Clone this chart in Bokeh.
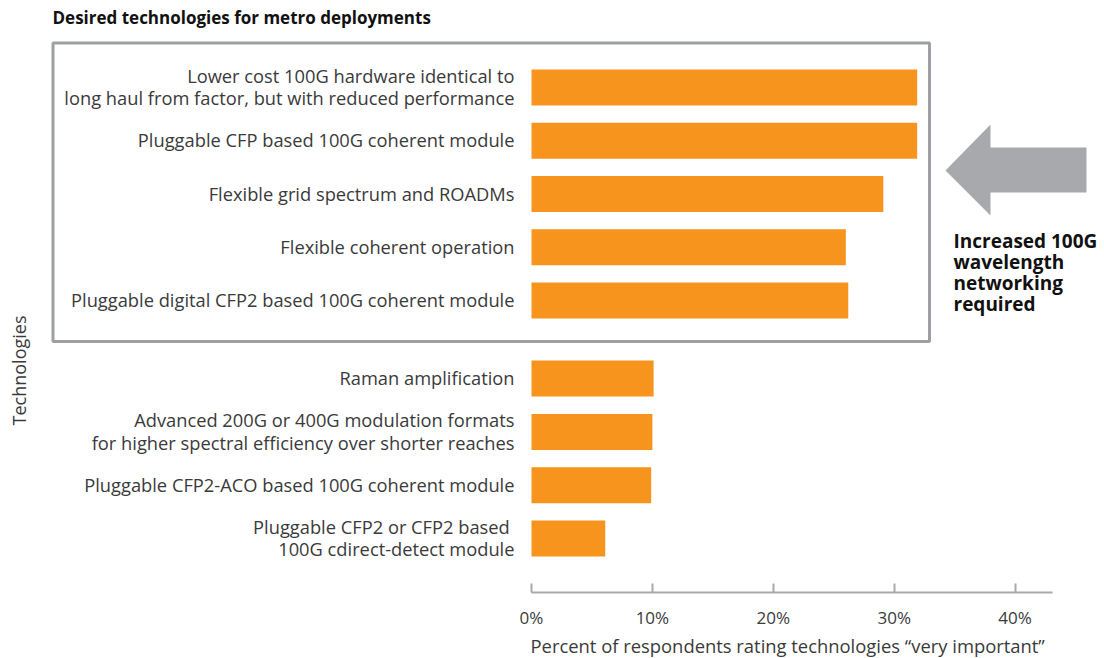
import math
from bokeh.plotting import figure
from bokeh.models import Range1d, FixedTicker, PrintfTickFormatter, Title
from bokeh.embed import file_html
from bokeh.resources import INLINE
from bokeh.core.properties import value

# ---------------- data ----------------
chart_title = "Desired technologies for metro deployments"
technologies = [
    "Lower cost 100G hardware identical to\nlong haul from factor, but with reduced performance",
    "Pluggable CFP based 100G coherent module",
    "Flexible grid spectrum and ROADMs",
    "Flexible coherent operation",
    "Pluggable digital CFP2 based 100G coherent module",
    "Raman amplification",
    "Advanced 200G or 400G modulation formats\nfor higher spectral efficiency over shorter reaches",
    "Pluggable CFP2-ACO based 100G coherent module",
    "Pluggable CFP2 or CFP2 based \n100G cdirect-detect module",
]
percent_very_important = [31.9, 31.9, 29.1, 26.0, 26.2, 10.1, 10.0, 9.9, 6.1]
n_highlighted = 5
x_ticks = [0, 10, 20, 30, 40]
x_label = "Percent of respondents rating technologies \u201cvery important\u201d"
y_label = "Technologies"
callout = "Increased 100G\nwavelength\nnetworking\nrequired"

# ---------------- layout ----------------
W, H = 1104, 658
BOTTOM_BORDER = 66
frame_bottom = H - BOTTOM_BORDER
x0_px = 531.0
ppp = 12.09          # pixels per percent
unit = 53.27         # pixels per category step
first_center = 87.0
group_gap = 0.465

def sx(px):
    return (px - x0_px) / ppp

def sy(py):
    return (py - first_center) / unit

positions = [i + (group_gap if i >= n_highlighted else 0.0) for i in range(len(technologies))]

p = figure(width=W, height=H, output_backend="svg", toolbar_location=None,
           x_range=Range1d(sx(0), sx(W)),
           y_range=Range1d(sy(frame_bottom), sy(0)),
           y_axis_location=None,
           min_border_left=0, min_border_right=0, min_border_top=0,
           min_border_bottom=BOTTOM_BORDER)
p.title.visible = False
p.outline_line_color = None
p.xgrid.visible = False
p.ygrid.visible = False
p.background_fill_color = "white"
p.border_fill_color = "white"

FONT = value("Open Sans")
TXT = "#3a3a3a"
LABEL_SIZE = "18.3px"

# bars
p.hbar(y=positions, left=0, right=percent_very_important, height=36 / unit,
       fill_color="#F7941E", line_color=None)

# category labels
p.text(x=[0] * len(technologies), y=positions, text=technologies,
       x_offset=-17, y_offset=-1, text_align="right", text_baseline="middle",
       text_font=FONT, text_font_size=LABEL_SIZE, text_color=TXT,
       text_line_height=0.9)

# highlight box around the first group
p.quad(left=sx(52.5), right=sx(929), top=sy(42.5), bottom=sy(341),
       fill_color=None, line_color="#9d9fa2", line_width=3)

# arrow
p.patch(x=[sx(945), sx(990), sx(990), sx(1086), sx(1086), sx(990), sx(990)],
        y=[sy(170), sy(124), sy(147), sy(147), sy(192), sy(192), sy(215)],
        fill_color="#a7a9ac", line_color=None)

# callout text
p.text(x=[sx(953)], y=[sy(272)], text=[callout], text_align="left",
       text_baseline="middle", text_font=FONT, text_font_style="bold",
       text_font_size="19px", text_color="#111111", text_line_height=0.82)

# chart title
p.text(x=[sx(52)], y=[sy(17)], text=[chart_title], text_align="left",
       text_baseline="middle", text_font=FONT, text_font_style="bold",
       text_font_size="17px", text_color="#111111")

# y label
p.text(x=[sx(18)], y=[sy(370)], text=[y_label], angle=math.pi / 2,
       text_align="center", text_baseline="middle", text_font=FONT,
       text_font_size="18px", text_color=TXT)

# x axis
ax = p.xaxis[0]
ax.ticker = FixedTicker(ticks=x_ticks)
ax.formatter = PrintfTickFormatter(format="%d%%")
ax.bounds = (0, sx(1052))
ax.axis_line_color = "#a7a9ac"
ax.axis_line_width = 2
ax.major_tick_line_color = "#a7a9ac"
ax.major_tick_line_width = 2
ax.major_tick_in = 9
ax.major_tick_out = 0
ax.minor_tick_line_color = None
ax.major_label_standoff = 13
ax.major_label_text_font = "Open Sans"
ax.major_label_text_font_size = "17px"
ax.major_label_text_color = TXT

# x-axis title, aligned with the axis span (0% .. end of axis line)
x_title = Title(text=x_label, align="left", offset=x0_px - 1,
                standoff=-1, text_font="Open Sans", text_font_style="normal",
                text_font_size="18.4px", text_color=TXT)
p.add_layout(x_title, "below")

open("out.html", "w").write(file_html(p, INLINE))
